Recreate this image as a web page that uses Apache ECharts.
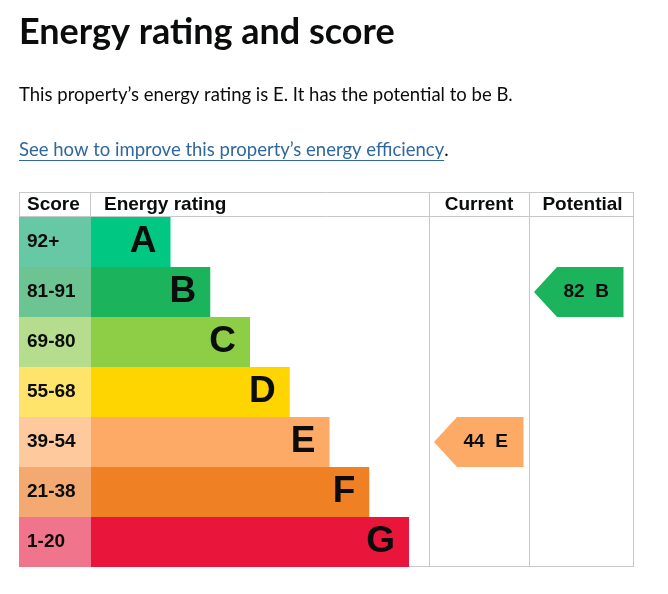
<!DOCTYPE html>
<html>
<head>
<meta charset="utf-8">
<title>Energy rating and score</title>
<script src="https://cdn.jsdelivr.net/npm/echarts@6/dist/echarts.min.js"></script>
<style>
  html, body { margin: 0; padding: 0; background: #fff; }
  #chart { width: 668px; height: 594px; }
</style>
</head>
<body>
<div id="chart"></div>
<script>
// 评级数据
const bands = ['A', 'B', 'C', 'D', 'E', 'F', 'G'];
const scoreRanges = ['92+', '81-91', '69-80', '55-68', '39-54', '21-38', '1-20'];
const barLengths = [2, 3, 4, 5, 6, 7, 8];
const bandColors = ['#00c781', '#1bb35c', '#8dce46', '#ffd500', '#fcaa65', '#ef8023', '#e9153b'];
const scoreColors = ['#66c8a5', '#6dc493', '#b6dd8e', '#ffe46c', '#fdc99d', '#f3a96f', '#f0748b'];

// 当前 / 潜在评级
const ratingColumns = ['Current', 'Potential'];
const ratingScores = [44, 82];
const ratingBands = ['E', 'B'];

// 文本
const titleText = 'Energy rating and score';
const summaryText = 'This property\u2019s energy rating is E. It has the potential to be B.';
const linkText = 'See how to improve this property\u2019s energy efficiency';

// 表格布局
const TABLE_LEFT = 19, TABLE_RIGHT = 634;
const HEAD_TOP = 192, BODY_TOP = 217, BODY_BOTTOM = 567;
const COL_RATING = 91, COL_CURRENT = 429, COL_POTENTIAL = 529;
const LINE_COLOR = '#c6c8ca';
const TEXT_COLOR = '#0b0c0c';
const LINK_COLOR = '#30679f';
const CHART_FONT = '"Liberation Sans", Arial, sans-serif';
const PAGE_FONT = 'Lato, "Liberation Sans", Arial, sans-serif';

// 量取文本宽度（用于链接下划线）
function textWidth(text, font) {
    const ctx = document.createElement('canvas').getContext('2d');
    ctx.font = font;
    return ctx.measureText(text).width;
}

const bodyHeight = BODY_BOTTOM - BODY_TOP;
const grids = [
    { left: TABLE_LEFT, top: BODY_TOP, width: COL_RATING - TABLE_LEFT, height: bodyHeight },
    { left: COL_RATING, top: BODY_TOP, width: COL_CURRENT - COL_RATING, height: bodyHeight },
    { left: COL_CURRENT, top: BODY_TOP, width: COL_POTENTIAL - COL_CURRENT, height: bodyHeight },
    { left: COL_POTENTIAL, top: BODY_TOP, width: TABLE_RIGHT - COL_POTENTIAL, height: bodyHeight }
];

const xAxes = grids.map((g, i) => ({
    type: 'value', gridIndex: i, show: false,
    min: 0, max: i === 1 ? (COL_CURRENT - COL_RATING) / 39.75 : 1
}));
const yAxes = grids.map((g, i) => ({
    type: 'category', gridIndex: i, show: false, inverse: true, data: bands
}));

// 箭头
function arrowSeries(colIndex) {
    const bandIdx = bands.indexOf(ratingBands[colIndex]);
    return {
        type: 'custom',
        xAxisIndex: colIndex + 2,
        yAxisIndex: colIndex + 2,
        data: [[0.5, ratingBands[colIndex], ratingScores[colIndex]]],
        renderItem: function (params, api) {
            const cs = params.coordSys;
            const yc = api.coord([0, api.value(1)])[1];
            const h = api.size([0, 1])[1];
            const left = cs.x + 5, right = left + 89.5;
            const tip = h / 2 - 2;
            return {
                type: 'group',
                children: [{
                    type: 'polygon',
                    shape: {
                        points: [[left, yc], [left + tip, yc - h / 2], [right, yc - h / 2],
                                 [right, yc + h / 2], [left + tip, yc + h / 2]]
                    },
                    style: { fill: bandColors[bandIdx] }
                }, {
                    type: 'text',
                    x: left + 29.5,
                    y: yc,
                    style: {
                        text: api.value(2) + '  ' + ratingBands[colIndex],
                        fill: TEXT_COLOR,
                        font: 'bold 19px ' + CHART_FONT,
                        align: 'left',
                        verticalAlign: 'middle'
                    }
                }]
            };
        }
    };
}

// 表格线和文字
const graphics = [];
function hLine(y) {
    graphics.push({ type: 'line', shape: { x1: TABLE_LEFT, y1: y + 0.5, x2: TABLE_RIGHT, y2: y + 0.5 },
        style: { stroke: LINE_COLOR, lineWidth: 1 }, z: 0 });
}
function vLine(x, y1, y2) {
    graphics.push({ type: 'line', shape: { x1: x + 0.5, y1: y1, x2: x + 0.5, y2: y2 },
        style: { stroke: LINE_COLOR, lineWidth: 1 }, z: 0 });
}
hLine(HEAD_TOP);
hLine(BODY_TOP - 1);
hLine(BODY_BOTTOM - 1);
vLine(TABLE_LEFT, HEAD_TOP, BODY_BOTTOM);
vLine(COL_RATING - 1, HEAD_TOP, BODY_TOP);
vLine(COL_CURRENT, HEAD_TOP, BODY_BOTTOM);
vLine(COL_POTENTIAL, HEAD_TOP, BODY_BOTTOM);
vLine(TABLE_RIGHT - 1, HEAD_TOP, BODY_BOTTOM);

function headText(text, x, align) {
    graphics.push({ type: 'text', x: x, y: 205, z: 5,
        style: { text: text, fill: TEXT_COLOR, font: 'bold 19px ' + CHART_FONT, align: align, verticalAlign: 'middle' } });
}
headText('Score', 27, 'left');
headText('Energy rating', 104, 'left');
headText(ratingColumns[0], (COL_CURRENT + COL_POTENTIAL) / 2, 'center');
headText(ratingColumns[1], (COL_POTENTIAL + TABLE_RIGHT) / 2 + 1, 'center');

// 标题、说明和链接
graphics.push({ type: 'text', x: 19, y: 32, z: 5,
    style: { text: titleText, fill: TEXT_COLOR, font: 'bold 36px ' + PAGE_FONT, verticalAlign: 'middle' } });
graphics.push({ type: 'text', x: 19, y: 95, z: 5,
    style: { text: summaryText, fill: TEXT_COLOR, font: '18.5px ' + PAGE_FONT, verticalAlign: 'middle' } });
const linkFont = '18.5px ' + PAGE_FONT;
const linkW = textWidth(linkText, '18.5px Lato');
graphics.push({ type: 'text', x: 19, y: 150, z: 5,
    style: { text: linkText, fill: LINK_COLOR, font: linkFont, verticalAlign: 'middle' } });
graphics.push({ type: 'rect', shape: { x: 19, y: 160, width: linkW, height: 1 },
    style: { fill: LINK_COLOR }, z: 5 });
graphics.push({ type: 'text', x: 19 + linkW, y: 150, z: 5,
    style: { text: '.', fill: TEXT_COLOR, font: linkFont, verticalAlign: 'middle' } });

const myChart = echarts.init(document.getElementById('chart'));
const option = {
    animation: false,
    backgroundColor: '#fff',
    grid: grids,
    xAxis: xAxes,
    yAxis: yAxes,
    series: [
        {
            // 分数列
            type: 'bar',
            xAxisIndex: 0, yAxisIndex: 0,
            barWidth: '100%',
            data: bands.map((b, i) => ({ value: 1, itemStyle: { color: scoreColors[i] } })),
            label: {
                show: true, position: 'insideLeft', distance: 8,
                formatter: p => scoreRanges[p.dataIndex],
                color: TEXT_COLOR, fontFamily: CHART_FONT, fontWeight: 'bold', fontSize: 19
            },
            silent: true
        },
        {
            // 评级条
            type: 'bar',
            xAxisIndex: 1, yAxisIndex: 1,
            barWidth: '100%',
            data: barLengths.map((v, i) => ({ value: v, itemStyle: { color: bandColors[i] } })),
            label: {
                show: true, position: 'insideRight', distance: 14,
                formatter: p => bands[p.dataIndex],
                color: TEXT_COLOR, fontFamily: CHART_FONT, fontWeight: 'bold', fontSize: 37
            },
            silent: true
        },
        arrowSeries(0),
        arrowSeries(1)
    ],
    graphic: graphics
};
myChart.setOption(option);

window.addEventListener('resize', function () {
    myChart.resize();
});
</script>
</body>
</html>
